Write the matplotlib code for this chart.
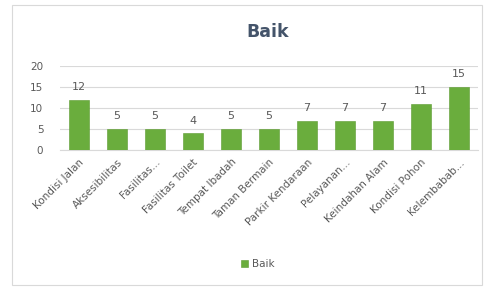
import matplotlib
matplotlib.use("Agg")
import matplotlib.pyplot as plt
from matplotlib.patches import Rectangle

categories = ["Kondisi Jalan", "Aksesibilitas", "Fasilitas...", "Fasilitas Toilet",
              "Tempat Ibadah", "Taman Bermain", "Parkir Kendaraan", "Pelayanan...",
              "Keindahan Alam", "Kondisi Pohon", "Kelembabab..."]
values = [12, 5, 5, 4, 5, 5, 7, 7, 7, 11, 15]
yticks = [0, 5, 10, 15, 20]
series_name = "Baik"

bar_color = "#6aad3d"
text_color = "#595959"

fig = plt.figure(figsize=(4.87, 2.88), dpi=100)
fig.patch.set_facecolor("white")
fig.patches.append(Rectangle((12/487, 3/288), 470/487, 280/288, transform=fig.transFigure,
                             fill=False, edgecolor="#d9d9d9", linewidth=0.8))

ax = fig.add_axes([60/487, 1-150/288, 418/487, 84/288])
x = list(range(len(categories)))
bars = ax.bar(x, values, width=0.52, color=bar_color, edgecolor="#5b9a30", linewidth=0.4,
              label=series_name, zorder=3)
for xi, v in zip(x, values):
    ax.text(xi, v + 1.8, str(v), ha="center", va="bottom", fontsize=8, color=text_color)

ax.set_xlim(-0.5, len(categories) - 0.5)
ax.set_ylim(0, 20)
ax.set_yticks(yticks)
ax.grid(axis="y", color="#d9d9d9", linewidth=0.8, zorder=0)
for s in ["top", "right", "left"]:
    ax.spines[s].set_visible(False)
ax.spines["bottom"].set_color("#d9d9d9")
ax.tick_params(axis="both", length=0, colors=text_color, labelsize=7.5)
ax.tick_params(axis="y", pad=12)
ax.tick_params(axis="x", pad=5)
ax.set_xticks(x)
ax.set_xticklabels(categories, rotation=45, ha="right", rotation_mode="anchor", fontsize=7.5)

fig.text(268/487, 1-32/288, "Baik", ha="center", va="center", fontsize=12.5,
         fontweight="bold", color="#44546a")

leg = fig.legend(handles=[bars], labels=[series_name], loc="center",
                 bbox_to_anchor=(258/487, 1-264/288), frameon=False, fontsize=7.5,
                 handlelength=0.7, handleheight=0.7, handletextpad=0.4, labelcolor=text_color)

fig.savefig("out.png", dpi=100, facecolor="white")
